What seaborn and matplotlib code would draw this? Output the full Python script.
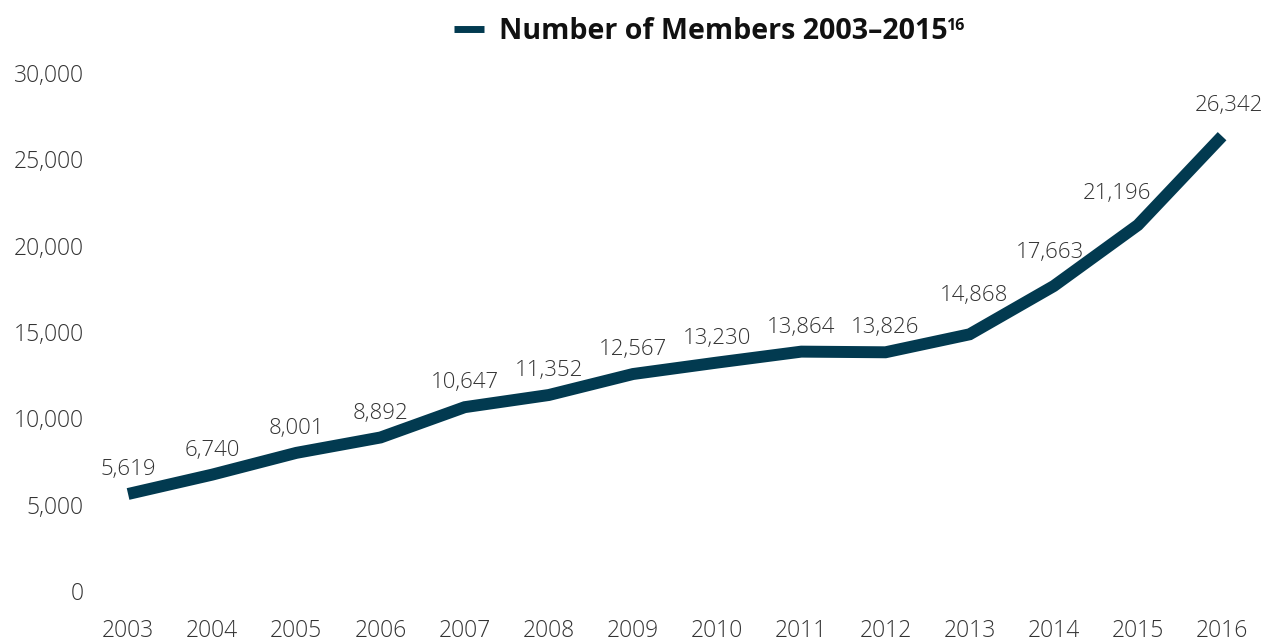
import matplotlib
matplotlib.use("Agg")
import matplotlib.pyplot as plt
import matplotlib.ticker as mticker
from matplotlib.font_manager import FontProperties
import seaborn as sns
import pandas as pd

years = [2003, 2004, 2005, 2006, 2007, 2008, 2009, 2010, 2011, 2012, 2013, 2014, 2015, 2016]
members = [5619, 6740, 8001, 8892, 10647, 11352, 12567, 13230, 13864, 13826, 14868, 17663, 21196, 26342]
y_ticks = [0, 5000, 10000, 15000, 20000, 25000, 30000]
series_label = "Number of Members 2003–2015"
footnote_mark = "16"

LINE_COLOR = "#023a50"
TEXT_COLOR = "#333333"

sns.set_theme(style="white")
plt.rcParams["font.family"] = ["Open Sans", "DejaVu Sans"]

df = pd.DataFrame({"year": years, "members": members})

fig = plt.figure(figsize=(12.73, 6.44), dpi=100)
ax = fig.add_axes([0.1006, 0.0823, 0.8594, 0.8043])

sns.lineplot(data=df, x="year", y="members", ax=ax, color=LINE_COLOR,
             linewidth=8.6, label=series_label)
for ln in ax.get_lines():
    ln.set_solid_capstyle("butt")
    ln.set_solid_joinstyle("miter")
    ln.set_clip_on(False)

ax.set_xlim(years[0], years[-1])
ax.set_ylim(0, 30000)
ax.set_xticks(years)
ax.set_yticks(y_ticks)
ax.yaxis.set_major_formatter(mticker.FuncFormatter(lambda v, p: f"{int(v):,}"))
ax.set_xlabel("")
ax.set_ylabel("")
sns.despine(ax=ax, left=True, bottom=True)
ax.tick_params(axis="both", length=0, labelsize=16.5, labelcolor=TEXT_COLOR)
ax.tick_params(axis="y", pad=32)
ax.tick_params(axis="x", pad=20.5)
for t in ax.get_xticklabels() + ax.get_yticklabels():
    t.set_fontweight("light")

# value annotations above each point; the steep end of the curve needs
# extra room so the text clears the line
offsets = {2013: (3, 28), 2014: (-3, 24.5), 2015: (-15, 23), 2016: (5, 22)}
for x, y in zip(years, members):
    dx, dy = offsets.get(x, (0, 17.5))
    ax.annotate(f"{y:,}", (x, y), xytext=(dx, dy), textcoords="offset points",
                ha="center", va="center", fontsize=16, color=TEXT_COLOR,
                fontweight="light", annotation_clip=False)

title_font = FontProperties(family="Open Sans", weight="bold", stretch="normal", size=20.6)
leg = ax.legend(loc="center", frameon=False, handlelength=1.05, handletextpad=0.5,
                prop=title_font)
leg.set_bbox_to_anchor((0.5505, 0.951), transform=fig.transFigure)
for h in leg.get_lines():
    h.set_linewidth(5)
    h.set_solid_capstyle("butt")
for t in leg.get_texts():
    t.set_color("#111111")

# footnote reference as a superscript after the legend text
fig.canvas.draw()
txt = leg.get_texts()[0]
bb = txt.get_window_extent(fig.canvas.get_renderer())
fig.text((bb.x1 - 1) / fig.bbox.width, (bb.y1 - 1) / fig.bbox.height, footnote_mark,
         ha="left", va="top", color="#111111",
         fontproperties=FontProperties(family="Open Sans", weight="bold",
                                       stretch="normal", size=11.5))

fig.savefig("out.png", dpi=100)
